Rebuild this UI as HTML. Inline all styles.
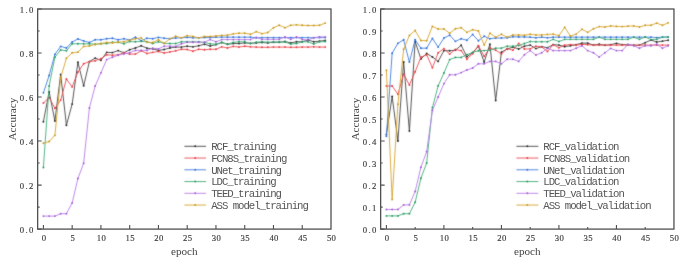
<!DOCTYPE html>
<html><head><meta charset="utf-8"><title>Accuracy curves</title>
<style>
html,body{margin:0;padding:0;background:#fff;}
body{width:685px;height:262px;overflow:hidden;}
svg{display:block;}
.tl{font-family:"Liberation Serif","Noto Serif CJK SC",serif;fill:#3a3a3a;stroke:#3a3a3a;stroke-width:0.15px;text-anchor:middle;}
.lg{font-family:"Liberation Mono","Noto Sans CJK SC",monospace;fill:#555;text-anchor:middle;}
.at{font-family:"Liberation Serif","Noto Serif CJK SC",serif;font-size:11.2px;fill:#444;}
</style></head>
<body>
<svg width="685" height="262" viewBox="0 0 685 262">
<defs><filter id="soft" x="0" y="0" width="685" height="262" filterUnits="userSpaceOnUse" color-interpolation-filters="sRGB"><feConvolveMatrix order="3" kernelMatrix="1 2 1 2 20 2 1 2 1" edgeMode="none"/></filter></defs>
<rect width="685" height="262" fill="#fff"/>
<g filter="url(#soft)">
<polyline points="43.40,121.69 49.15,91.76 54.90,121.03 60.66,74.37 66.41,125.21 72.16,104.08 77.91,62.26 83.66,85.81 89.42,61.60 95.17,58.08 100.92,60.28 106.67,52.36 112.42,52.58 118.18,50.60 123.93,52.80 129.68,49.72 135.43,47.96 141.18,45.76 146.94,48.18 152.69,48.84 158.44,50.38 164.19,49.50 169.94,47.96 175.70,47.08 181.45,47.08 187.20,46.20 192.95,46.86 198.70,45.76 204.46,44.22 210.21,45.98 215.96,44.66 221.71,42.46 227.46,44.22 233.22,43.56 238.97,43.56 244.72,42.90 250.47,43.34 256.22,42.90 261.98,42.46 267.73,42.90 273.48,42.24 279.23,42.24 284.98,41.57 290.74,42.90 296.49,41.79 302.24,41.79 307.99,40.03 313.74,41.79 319.50,41.13 325.25,40.47" fill="none" stroke="#444444" stroke-width="0.9" stroke-linejoin="round"/>
<g fill="#2a2a2a"><circle cx="43.40" cy="121.69" r="0.95"/><circle cx="49.15" cy="91.76" r="0.95"/><circle cx="54.90" cy="121.03" r="0.95"/><circle cx="60.66" cy="74.37" r="0.95"/><circle cx="66.41" cy="125.21" r="0.95"/><circle cx="72.16" cy="104.08" r="0.95"/><circle cx="77.91" cy="62.26" r="0.95"/><circle cx="83.66" cy="85.81" r="0.95"/><circle cx="89.42" cy="61.60" r="0.95"/><circle cx="95.17" cy="58.08" r="0.95"/><circle cx="100.92" cy="60.28" r="0.95"/><circle cx="106.67" cy="52.36" r="0.95"/><circle cx="112.42" cy="52.58" r="0.95"/><circle cx="118.18" cy="50.60" r="0.95"/><circle cx="123.93" cy="52.80" r="0.95"/><circle cx="129.68" cy="49.72" r="0.95"/><circle cx="135.43" cy="47.96" r="0.95"/><circle cx="141.18" cy="45.76" r="0.95"/><circle cx="146.94" cy="48.18" r="0.95"/><circle cx="152.69" cy="48.84" r="0.95"/><circle cx="158.44" cy="50.38" r="0.95"/><circle cx="164.19" cy="49.50" r="0.95"/><circle cx="169.94" cy="47.96" r="0.95"/><circle cx="175.70" cy="47.08" r="0.95"/><circle cx="181.45" cy="47.08" r="0.95"/><circle cx="187.20" cy="46.20" r="0.95"/><circle cx="192.95" cy="46.86" r="0.95"/><circle cx="198.70" cy="45.76" r="0.95"/><circle cx="204.46" cy="44.22" r="0.95"/><circle cx="210.21" cy="45.98" r="0.95"/><circle cx="215.96" cy="44.66" r="0.95"/><circle cx="221.71" cy="42.46" r="0.95"/><circle cx="227.46" cy="44.22" r="0.95"/><circle cx="233.22" cy="43.56" r="0.95"/><circle cx="238.97" cy="43.56" r="0.95"/><circle cx="244.72" cy="42.90" r="0.95"/><circle cx="250.47" cy="43.34" r="0.95"/><circle cx="256.22" cy="42.90" r="0.95"/><circle cx="261.98" cy="42.46" r="0.95"/><circle cx="267.73" cy="42.90" r="0.95"/><circle cx="273.48" cy="42.24" r="0.95"/><circle cx="279.23" cy="42.24" r="0.95"/><circle cx="284.98" cy="41.57" r="0.95"/><circle cx="290.74" cy="42.90" r="0.95"/><circle cx="296.49" cy="41.79" r="0.95"/><circle cx="302.24" cy="41.79" r="0.95"/><circle cx="307.99" cy="40.03" r="0.95"/><circle cx="313.74" cy="41.79" r="0.95"/><circle cx="319.50" cy="41.13" r="0.95"/><circle cx="325.25" cy="40.47" r="0.95"/></g>
<polyline points="43.40,102.98 49.15,97.48 54.90,108.27 60.66,100.12 66.41,78.99 72.16,86.92 77.91,71.95 83.66,63.80 89.42,61.60 95.17,60.72 100.92,58.74 106.67,54.78 112.42,55.22 118.18,54.78 123.93,52.80 129.68,54.12 135.43,54.12 141.18,50.82 146.94,53.46 152.69,52.36 158.44,51.48 164.19,53.02 169.94,51.92 175.70,50.82 181.45,49.28 187.20,49.50 192.95,51.26 198.70,49.28 204.46,49.72 210.21,49.28 215.96,49.28 221.71,46.86 227.46,47.96 233.22,46.42 238.97,47.08 244.72,46.20 250.47,46.86 256.22,47.08 261.98,47.30 267.73,47.30 273.48,47.08 279.23,47.08 284.98,47.08 290.74,47.30 296.49,47.30 302.24,47.08 307.99,47.08 313.74,46.86 319.50,47.08 325.25,47.08" fill="none" stroke="#ec4a50" stroke-width="0.9" stroke-linejoin="round"/>
<g fill="#e83c44"><circle cx="43.40" cy="102.98" r="0.95"/><circle cx="49.15" cy="97.48" r="0.95"/><circle cx="54.90" cy="108.27" r="0.95"/><circle cx="60.66" cy="100.12" r="0.95"/><circle cx="66.41" cy="78.99" r="0.95"/><circle cx="72.16" cy="86.92" r="0.95"/><circle cx="77.91" cy="71.95" r="0.95"/><circle cx="83.66" cy="63.80" r="0.95"/><circle cx="89.42" cy="61.60" r="0.95"/><circle cx="95.17" cy="60.72" r="0.95"/><circle cx="100.92" cy="58.74" r="0.95"/><circle cx="106.67" cy="54.78" r="0.95"/><circle cx="112.42" cy="55.22" r="0.95"/><circle cx="118.18" cy="54.78" r="0.95"/><circle cx="123.93" cy="52.80" r="0.95"/><circle cx="129.68" cy="54.12" r="0.95"/><circle cx="135.43" cy="54.12" r="0.95"/><circle cx="141.18" cy="50.82" r="0.95"/><circle cx="146.94" cy="53.46" r="0.95"/><circle cx="152.69" cy="52.36" r="0.95"/><circle cx="158.44" cy="51.48" r="0.95"/><circle cx="164.19" cy="53.02" r="0.95"/><circle cx="169.94" cy="51.92" r="0.95"/><circle cx="175.70" cy="50.82" r="0.95"/><circle cx="181.45" cy="49.28" r="0.95"/><circle cx="187.20" cy="49.50" r="0.95"/><circle cx="192.95" cy="51.26" r="0.95"/><circle cx="198.70" cy="49.28" r="0.95"/><circle cx="204.46" cy="49.72" r="0.95"/><circle cx="210.21" cy="49.28" r="0.95"/><circle cx="215.96" cy="49.28" r="0.95"/><circle cx="221.71" cy="46.86" r="0.95"/><circle cx="227.46" cy="47.96" r="0.95"/><circle cx="233.22" cy="46.42" r="0.95"/><circle cx="238.97" cy="47.08" r="0.95"/><circle cx="244.72" cy="46.20" r="0.95"/><circle cx="250.47" cy="46.86" r="0.95"/><circle cx="256.22" cy="47.08" r="0.95"/><circle cx="261.98" cy="47.30" r="0.95"/><circle cx="267.73" cy="47.30" r="0.95"/><circle cx="273.48" cy="47.08" r="0.95"/><circle cx="279.23" cy="47.08" r="0.95"/><circle cx="284.98" cy="47.08" r="0.95"/><circle cx="290.74" cy="47.30" r="0.95"/><circle cx="296.49" cy="47.30" r="0.95"/><circle cx="302.24" cy="47.08" r="0.95"/><circle cx="307.99" cy="47.08" r="0.95"/><circle cx="313.74" cy="46.86" r="0.95"/><circle cx="319.50" cy="47.08" r="0.95"/><circle cx="325.25" cy="47.08" r="0.95"/></g>
<polyline points="43.40,92.86 49.15,75.47 54.90,54.34 60.66,46.42 66.41,47.96 72.16,42.02 77.91,38.93 83.66,40.91 89.42,42.46 95.17,39.81 100.92,39.81 106.67,38.71 112.42,38.27 118.18,39.81 123.93,38.71 129.68,40.03 135.43,37.17 141.18,40.69 146.94,38.27 152.69,38.71 158.44,37.39 164.19,38.27 169.94,38.71 175.70,38.05 181.45,37.83 187.20,37.39 192.95,37.83 198.70,37.83 204.46,37.61 210.21,37.61 215.96,37.17 221.71,37.17 227.46,37.17 233.22,37.17 238.97,37.17 244.72,37.17 250.47,37.17 256.22,37.83 261.98,37.61 267.73,37.61 273.48,37.61 279.23,37.61 284.98,37.61 290.74,37.61 296.49,37.61 302.24,37.61 307.99,37.61 313.74,37.83 319.50,37.61 325.25,37.61" fill="none" stroke="#3f7ddc" stroke-width="0.9" stroke-linejoin="round"/>
<g fill="#2f6fd8"><circle cx="43.40" cy="92.86" r="0.95"/><circle cx="49.15" cy="75.47" r="0.95"/><circle cx="54.90" cy="54.34" r="0.95"/><circle cx="60.66" cy="46.42" r="0.95"/><circle cx="66.41" cy="47.96" r="0.95"/><circle cx="72.16" cy="42.02" r="0.95"/><circle cx="77.91" cy="38.93" r="0.95"/><circle cx="83.66" cy="40.91" r="0.95"/><circle cx="89.42" cy="42.46" r="0.95"/><circle cx="95.17" cy="39.81" r="0.95"/><circle cx="100.92" cy="39.81" r="0.95"/><circle cx="106.67" cy="38.71" r="0.95"/><circle cx="112.42" cy="38.27" r="0.95"/><circle cx="118.18" cy="39.81" r="0.95"/><circle cx="123.93" cy="38.71" r="0.95"/><circle cx="129.68" cy="40.03" r="0.95"/><circle cx="135.43" cy="37.17" r="0.95"/><circle cx="141.18" cy="40.69" r="0.95"/><circle cx="146.94" cy="38.27" r="0.95"/><circle cx="152.69" cy="38.71" r="0.95"/><circle cx="158.44" cy="37.39" r="0.95"/><circle cx="164.19" cy="38.27" r="0.95"/><circle cx="169.94" cy="38.71" r="0.95"/><circle cx="175.70" cy="38.05" r="0.95"/><circle cx="181.45" cy="37.83" r="0.95"/><circle cx="187.20" cy="37.39" r="0.95"/><circle cx="192.95" cy="37.83" r="0.95"/><circle cx="198.70" cy="37.83" r="0.95"/><circle cx="204.46" cy="37.61" r="0.95"/><circle cx="210.21" cy="37.61" r="0.95"/><circle cx="215.96" cy="37.17" r="0.95"/><circle cx="221.71" cy="37.17" r="0.95"/><circle cx="227.46" cy="37.17" r="0.95"/><circle cx="233.22" cy="37.17" r="0.95"/><circle cx="238.97" cy="37.17" r="0.95"/><circle cx="244.72" cy="37.17" r="0.95"/><circle cx="250.47" cy="37.17" r="0.95"/><circle cx="256.22" cy="37.83" r="0.95"/><circle cx="261.98" cy="37.61" r="0.95"/><circle cx="267.73" cy="37.61" r="0.95"/><circle cx="273.48" cy="37.61" r="0.95"/><circle cx="279.23" cy="37.61" r="0.95"/><circle cx="284.98" cy="37.61" r="0.95"/><circle cx="290.74" cy="37.61" r="0.95"/><circle cx="296.49" cy="37.61" r="0.95"/><circle cx="302.24" cy="37.61" r="0.95"/><circle cx="307.99" cy="37.61" r="0.95"/><circle cx="313.74" cy="37.83" r="0.95"/><circle cx="319.50" cy="37.61" r="0.95"/><circle cx="325.25" cy="37.61" r="0.95"/></g>
<polyline points="43.40,167.47 49.15,86.03 54.90,57.20 60.66,49.94 66.41,50.82 72.16,43.78 77.91,43.78 83.66,43.78 89.42,43.78 95.17,44.22 100.92,43.78 106.67,43.56 112.42,42.24 118.18,42.24 123.93,43.78 129.68,41.57 135.43,41.79 141.18,41.35 146.94,41.79 152.69,43.56 158.44,41.79 164.19,43.34 169.94,43.56 175.70,43.56 181.45,41.79 187.20,41.79 192.95,41.79 198.70,41.79 204.46,42.46 210.21,43.78 215.96,44.22 221.71,42.46 227.46,44.22 233.22,42.46 238.97,41.79 244.72,41.79 250.47,43.56 256.22,42.24 261.98,41.79 267.73,42.24 273.48,42.02 279.23,42.02 284.98,42.02 290.74,44.00 296.49,43.56 302.24,41.79 307.99,41.79 313.74,44.00 319.50,41.79 325.25,41.57" fill="none" stroke="#40ae78" stroke-width="0.9" stroke-linejoin="round"/>
<g fill="#259860"><circle cx="43.40" cy="167.47" r="0.95"/><circle cx="49.15" cy="86.03" r="0.95"/><circle cx="54.90" cy="57.20" r="0.95"/><circle cx="60.66" cy="49.94" r="0.95"/><circle cx="66.41" cy="50.82" r="0.95"/><circle cx="72.16" cy="43.78" r="0.95"/><circle cx="77.91" cy="43.78" r="0.95"/><circle cx="83.66" cy="43.78" r="0.95"/><circle cx="89.42" cy="43.78" r="0.95"/><circle cx="95.17" cy="44.22" r="0.95"/><circle cx="100.92" cy="43.78" r="0.95"/><circle cx="106.67" cy="43.56" r="0.95"/><circle cx="112.42" cy="42.24" r="0.95"/><circle cx="118.18" cy="42.24" r="0.95"/><circle cx="123.93" cy="43.78" r="0.95"/><circle cx="129.68" cy="41.57" r="0.95"/><circle cx="135.43" cy="41.79" r="0.95"/><circle cx="141.18" cy="41.35" r="0.95"/><circle cx="146.94" cy="41.79" r="0.95"/><circle cx="152.69" cy="43.56" r="0.95"/><circle cx="158.44" cy="41.79" r="0.95"/><circle cx="164.19" cy="43.34" r="0.95"/><circle cx="169.94" cy="43.56" r="0.95"/><circle cx="175.70" cy="43.56" r="0.95"/><circle cx="181.45" cy="41.79" r="0.95"/><circle cx="187.20" cy="41.79" r="0.95"/><circle cx="192.95" cy="41.79" r="0.95"/><circle cx="198.70" cy="41.79" r="0.95"/><circle cx="204.46" cy="42.46" r="0.95"/><circle cx="210.21" cy="43.78" r="0.95"/><circle cx="215.96" cy="44.22" r="0.95"/><circle cx="221.71" cy="42.46" r="0.95"/><circle cx="227.46" cy="44.22" r="0.95"/><circle cx="233.22" cy="42.46" r="0.95"/><circle cx="238.97" cy="41.79" r="0.95"/><circle cx="244.72" cy="41.79" r="0.95"/><circle cx="250.47" cy="43.56" r="0.95"/><circle cx="256.22" cy="42.24" r="0.95"/><circle cx="261.98" cy="41.79" r="0.95"/><circle cx="267.73" cy="42.24" r="0.95"/><circle cx="273.48" cy="42.02" r="0.95"/><circle cx="279.23" cy="42.02" r="0.95"/><circle cx="284.98" cy="42.02" r="0.95"/><circle cx="290.74" cy="44.00" r="0.95"/><circle cx="296.49" cy="43.56" r="0.95"/><circle cx="302.24" cy="41.79" r="0.95"/><circle cx="307.99" cy="41.79" r="0.95"/><circle cx="313.74" cy="44.00" r="0.95"/><circle cx="319.50" cy="41.79" r="0.95"/><circle cx="325.25" cy="41.57" r="0.95"/></g>
<polyline points="43.40,216.11 49.15,216.11 54.90,216.11 60.66,213.69 66.41,213.69 72.16,202.91 77.91,178.48 83.66,163.29 89.42,108.04 95.17,86.03 100.92,72.83 106.67,59.62 112.42,57.20 118.18,55.22 123.93,53.90 129.68,52.80 135.43,50.38 141.18,50.38 146.94,50.38 152.69,48.18 158.44,48.84 164.19,46.20 169.94,46.20 175.70,46.42 181.45,43.78 187.20,42.24 192.95,42.24 198.70,42.24 204.46,42.24 210.21,39.59 215.96,41.79 221.71,39.59 227.46,39.59 233.22,39.59 238.97,39.59 244.72,39.59 250.47,39.59 256.22,37.39 261.98,39.37 267.73,39.37 273.48,39.37 279.23,39.37 284.98,36.95 290.74,39.37 296.49,36.95 302.24,39.37 307.99,40.03 313.74,37.61 319.50,36.95 325.25,36.95" fill="none" stroke="#b87ce6" stroke-width="0.9" stroke-linejoin="round"/>
<g fill="#a05ad8"><circle cx="43.40" cy="216.11" r="0.95"/><circle cx="49.15" cy="216.11" r="0.95"/><circle cx="54.90" cy="216.11" r="0.95"/><circle cx="60.66" cy="213.69" r="0.95"/><circle cx="66.41" cy="213.69" r="0.95"/><circle cx="72.16" cy="202.91" r="0.95"/><circle cx="77.91" cy="178.48" r="0.95"/><circle cx="83.66" cy="163.29" r="0.95"/><circle cx="89.42" cy="108.04" r="0.95"/><circle cx="95.17" cy="86.03" r="0.95"/><circle cx="100.92" cy="72.83" r="0.95"/><circle cx="106.67" cy="59.62" r="0.95"/><circle cx="112.42" cy="57.20" r="0.95"/><circle cx="118.18" cy="55.22" r="0.95"/><circle cx="123.93" cy="53.90" r="0.95"/><circle cx="129.68" cy="52.80" r="0.95"/><circle cx="135.43" cy="50.38" r="0.95"/><circle cx="141.18" cy="50.38" r="0.95"/><circle cx="146.94" cy="50.38" r="0.95"/><circle cx="152.69" cy="48.18" r="0.95"/><circle cx="158.44" cy="48.84" r="0.95"/><circle cx="164.19" cy="46.20" r="0.95"/><circle cx="169.94" cy="46.20" r="0.95"/><circle cx="175.70" cy="46.42" r="0.95"/><circle cx="181.45" cy="43.78" r="0.95"/><circle cx="187.20" cy="42.24" r="0.95"/><circle cx="192.95" cy="42.24" r="0.95"/><circle cx="198.70" cy="42.24" r="0.95"/><circle cx="204.46" cy="42.24" r="0.95"/><circle cx="210.21" cy="39.59" r="0.95"/><circle cx="215.96" cy="41.79" r="0.95"/><circle cx="221.71" cy="39.59" r="0.95"/><circle cx="227.46" cy="39.59" r="0.95"/><circle cx="233.22" cy="39.59" r="0.95"/><circle cx="238.97" cy="39.59" r="0.95"/><circle cx="244.72" cy="39.59" r="0.95"/><circle cx="250.47" cy="39.59" r="0.95"/><circle cx="256.22" cy="37.39" r="0.95"/><circle cx="261.98" cy="39.37" r="0.95"/><circle cx="267.73" cy="39.37" r="0.95"/><circle cx="273.48" cy="39.37" r="0.95"/><circle cx="279.23" cy="39.37" r="0.95"/><circle cx="284.98" cy="36.95" r="0.95"/><circle cx="290.74" cy="39.37" r="0.95"/><circle cx="296.49" cy="36.95" r="0.95"/><circle cx="302.24" cy="39.37" r="0.95"/><circle cx="307.99" cy="40.03" r="0.95"/><circle cx="313.74" cy="37.61" r="0.95"/><circle cx="319.50" cy="36.95" r="0.95"/><circle cx="325.25" cy="36.95" r="0.95"/></g>
<polyline points="43.40,143.26 49.15,141.50 54.90,135.34 60.66,77.67 66.41,58.30 72.16,52.80 77.91,52.14 83.66,46.42 89.42,45.98 95.17,44.44 100.92,43.56 106.67,42.46 112.42,42.90 118.18,42.24 123.93,41.79 129.68,40.25 135.43,38.71 141.18,37.83 146.94,42.24 152.69,42.46 158.44,39.81 164.19,43.34 169.94,38.71 175.70,36.29 181.45,37.83 187.20,35.63 192.95,36.51 198.70,37.83 204.46,36.51 210.21,36.51 215.96,36.07 221.71,35.41 227.46,35.19 233.22,33.87 238.97,33.21 244.72,33.21 250.47,34.31 256.22,31.67 261.98,33.65 267.73,32.55 273.48,27.71 279.23,25.29 284.98,27.71 290.74,25.29 296.49,24.85 302.24,25.29 307.99,25.51 313.74,25.51 319.50,25.29 325.25,23.09" fill="none" stroke="#d6a42a" stroke-width="0.9" stroke-linejoin="round"/>
<g fill="#c89818"><circle cx="43.40" cy="143.26" r="0.95"/><circle cx="49.15" cy="141.50" r="0.95"/><circle cx="54.90" cy="135.34" r="0.95"/><circle cx="60.66" cy="77.67" r="0.95"/><circle cx="66.41" cy="58.30" r="0.95"/><circle cx="72.16" cy="52.80" r="0.95"/><circle cx="77.91" cy="52.14" r="0.95"/><circle cx="83.66" cy="46.42" r="0.95"/><circle cx="89.42" cy="45.98" r="0.95"/><circle cx="95.17" cy="44.44" r="0.95"/><circle cx="100.92" cy="43.56" r="0.95"/><circle cx="106.67" cy="42.46" r="0.95"/><circle cx="112.42" cy="42.90" r="0.95"/><circle cx="118.18" cy="42.24" r="0.95"/><circle cx="123.93" cy="41.79" r="0.95"/><circle cx="129.68" cy="40.25" r="0.95"/><circle cx="135.43" cy="38.71" r="0.95"/><circle cx="141.18" cy="37.83" r="0.95"/><circle cx="146.94" cy="42.24" r="0.95"/><circle cx="152.69" cy="42.46" r="0.95"/><circle cx="158.44" cy="39.81" r="0.95"/><circle cx="164.19" cy="43.34" r="0.95"/><circle cx="169.94" cy="38.71" r="0.95"/><circle cx="175.70" cy="36.29" r="0.95"/><circle cx="181.45" cy="37.83" r="0.95"/><circle cx="187.20" cy="35.63" r="0.95"/><circle cx="192.95" cy="36.51" r="0.95"/><circle cx="198.70" cy="37.83" r="0.95"/><circle cx="204.46" cy="36.51" r="0.95"/><circle cx="210.21" cy="36.51" r="0.95"/><circle cx="215.96" cy="36.07" r="0.95"/><circle cx="221.71" cy="35.41" r="0.95"/><circle cx="227.46" cy="35.19" r="0.95"/><circle cx="233.22" cy="33.87" r="0.95"/><circle cx="238.97" cy="33.21" r="0.95"/><circle cx="244.72" cy="33.21" r="0.95"/><circle cx="250.47" cy="34.31" r="0.95"/><circle cx="256.22" cy="31.67" r="0.95"/><circle cx="261.98" cy="33.65" r="0.95"/><circle cx="267.73" cy="32.55" r="0.95"/><circle cx="273.48" cy="27.71" r="0.95"/><circle cx="279.23" cy="25.29" r="0.95"/><circle cx="284.98" cy="27.71" r="0.95"/><circle cx="290.74" cy="25.29" r="0.95"/><circle cx="296.49" cy="24.85" r="0.95"/><circle cx="302.24" cy="25.29" r="0.95"/><circle cx="307.99" cy="25.51" r="0.95"/><circle cx="313.74" cy="25.51" r="0.95"/><circle cx="319.50" cy="25.29" r="0.95"/><circle cx="325.25" cy="23.09" r="0.95"/></g>
<path d="M184.40 146.30h21.6" stroke="#444444" stroke-width="0.9"/>
<circle cx="195.20" cy="146.30" r="0.95" fill="#2a2a2a"/>
<path d="M184.40 158.05h21.6" stroke="#ec4a50" stroke-width="0.9"/>
<circle cx="195.20" cy="158.05" r="0.95" fill="#e83c44"/>
<path d="M184.40 169.80h21.6" stroke="#3f7ddc" stroke-width="0.9"/>
<circle cx="195.20" cy="169.80" r="0.95" fill="#2f6fd8"/>
<path d="M184.40 181.55h21.6" stroke="#40ae78" stroke-width="0.9"/>
<circle cx="195.20" cy="181.55" r="0.95" fill="#259860"/>
<path d="M184.40 193.30h21.6" stroke="#b87ce6" stroke-width="0.9"/>
<circle cx="195.20" cy="193.30" r="0.95" fill="#a05ad8"/>
<path d="M184.40 205.05h21.6" stroke="#d6a42a" stroke-width="0.9"/>
<circle cx="195.20" cy="205.05" r="0.95" fill="#c89818"/>
<polyline points="386.40,134.46 392.15,96.38 397.90,141.06 403.65,62.04 409.40,130.94 415.15,41.57 420.91,58.96 426.66,53.46 432.41,56.98 438.16,61.38 443.91,50.60 449.66,50.82 455.41,50.16 461.16,45.32 466.91,56.76 472.66,52.58 478.42,46.20 484.17,62.04 489.92,44.22 495.67,100.56 501.42,52.14 507.17,49.06 512.92,47.08 518.67,49.06 524.42,46.20 530.17,45.10 535.93,48.62 541.68,46.64 547.43,47.74 553.18,44.66 558.93,45.10 564.68,46.64 570.43,45.76 576.18,44.66 581.93,43.12 587.68,43.12 593.44,45.10 599.19,44.22 604.94,45.32 610.69,44.66 616.44,43.34 622.19,44.66 627.94,44.66 633.69,45.32 639.44,45.10 645.19,42.68 650.95,40.03 656.70,42.02 662.45,41.13 668.20,40.25" fill="none" stroke="#444444" stroke-width="0.9" stroke-linejoin="round"/>
<g fill="#2a2a2a"><circle cx="386.40" cy="134.46" r="0.95"/><circle cx="392.15" cy="96.38" r="0.95"/><circle cx="397.90" cy="141.06" r="0.95"/><circle cx="403.65" cy="62.04" r="0.95"/><circle cx="409.40" cy="130.94" r="0.95"/><circle cx="415.15" cy="41.57" r="0.95"/><circle cx="420.91" cy="58.96" r="0.95"/><circle cx="426.66" cy="53.46" r="0.95"/><circle cx="432.41" cy="56.98" r="0.95"/><circle cx="438.16" cy="61.38" r="0.95"/><circle cx="443.91" cy="50.60" r="0.95"/><circle cx="449.66" cy="50.82" r="0.95"/><circle cx="455.41" cy="50.16" r="0.95"/><circle cx="461.16" cy="45.32" r="0.95"/><circle cx="466.91" cy="56.76" r="0.95"/><circle cx="472.66" cy="52.58" r="0.95"/><circle cx="478.42" cy="46.20" r="0.95"/><circle cx="484.17" cy="62.04" r="0.95"/><circle cx="489.92" cy="44.22" r="0.95"/><circle cx="495.67" cy="100.56" r="0.95"/><circle cx="501.42" cy="52.14" r="0.95"/><circle cx="507.17" cy="49.06" r="0.95"/><circle cx="512.92" cy="47.08" r="0.95"/><circle cx="518.67" cy="49.06" r="0.95"/><circle cx="524.42" cy="46.20" r="0.95"/><circle cx="530.17" cy="45.10" r="0.95"/><circle cx="535.93" cy="48.62" r="0.95"/><circle cx="541.68" cy="46.64" r="0.95"/><circle cx="547.43" cy="47.74" r="0.95"/><circle cx="553.18" cy="44.66" r="0.95"/><circle cx="558.93" cy="45.10" r="0.95"/><circle cx="564.68" cy="46.64" r="0.95"/><circle cx="570.43" cy="45.76" r="0.95"/><circle cx="576.18" cy="44.66" r="0.95"/><circle cx="581.93" cy="43.12" r="0.95"/><circle cx="587.68" cy="43.12" r="0.95"/><circle cx="593.44" cy="45.10" r="0.95"/><circle cx="599.19" cy="44.22" r="0.95"/><circle cx="604.94" cy="45.32" r="0.95"/><circle cx="610.69" cy="44.66" r="0.95"/><circle cx="616.44" cy="43.34" r="0.95"/><circle cx="622.19" cy="44.66" r="0.95"/><circle cx="627.94" cy="44.66" r="0.95"/><circle cx="633.69" cy="45.32" r="0.95"/><circle cx="639.44" cy="45.10" r="0.95"/><circle cx="645.19" cy="42.68" r="0.95"/><circle cx="650.95" cy="40.03" r="0.95"/><circle cx="656.70" cy="42.02" r="0.95"/><circle cx="662.45" cy="41.13" r="0.95"/><circle cx="668.20" cy="40.25" r="0.95"/></g>
<polyline points="386.40,86.03 392.15,86.03 397.90,94.18 403.65,74.15 409.40,84.93 415.15,71.73 420.91,57.20 426.66,54.78 432.41,67.77 438.16,52.80 443.91,48.62 449.66,54.12 455.41,49.50 461.16,50.60 466.91,59.18 472.66,53.68 478.42,45.76 484.17,56.32 489.92,47.96 495.67,50.16 501.42,53.90 507.17,48.62 512.92,50.16 518.67,43.34 524.42,49.06 530.17,48.84 535.93,46.20 541.68,46.86 547.43,51.48 553.18,44.66 558.93,47.74 564.68,45.10 570.43,44.66 576.18,45.10 581.93,44.44 587.68,44.66 593.44,45.10 599.19,45.10 604.94,45.10 610.69,45.10 616.44,45.10 622.19,45.10 627.94,45.10 633.69,45.32 639.44,45.10 645.19,45.10 650.95,45.10 656.70,45.10 662.45,45.10 668.20,45.10" fill="none" stroke="#ec4a50" stroke-width="0.9" stroke-linejoin="round"/>
<g fill="#e83c44"><circle cx="386.40" cy="86.03" r="0.95"/><circle cx="392.15" cy="86.03" r="0.95"/><circle cx="397.90" cy="94.18" r="0.95"/><circle cx="403.65" cy="74.15" r="0.95"/><circle cx="409.40" cy="84.93" r="0.95"/><circle cx="415.15" cy="71.73" r="0.95"/><circle cx="420.91" cy="57.20" r="0.95"/><circle cx="426.66" cy="54.78" r="0.95"/><circle cx="432.41" cy="67.77" r="0.95"/><circle cx="438.16" cy="52.80" r="0.95"/><circle cx="443.91" cy="48.62" r="0.95"/><circle cx="449.66" cy="54.12" r="0.95"/><circle cx="455.41" cy="49.50" r="0.95"/><circle cx="461.16" cy="50.60" r="0.95"/><circle cx="466.91" cy="59.18" r="0.95"/><circle cx="472.66" cy="53.68" r="0.95"/><circle cx="478.42" cy="45.76" r="0.95"/><circle cx="484.17" cy="56.32" r="0.95"/><circle cx="489.92" cy="47.96" r="0.95"/><circle cx="495.67" cy="50.16" r="0.95"/><circle cx="501.42" cy="53.90" r="0.95"/><circle cx="507.17" cy="48.62" r="0.95"/><circle cx="512.92" cy="50.16" r="0.95"/><circle cx="518.67" cy="43.34" r="0.95"/><circle cx="524.42" cy="49.06" r="0.95"/><circle cx="530.17" cy="48.84" r="0.95"/><circle cx="535.93" cy="46.20" r="0.95"/><circle cx="541.68" cy="46.86" r="0.95"/><circle cx="547.43" cy="51.48" r="0.95"/><circle cx="553.18" cy="44.66" r="0.95"/><circle cx="558.93" cy="47.74" r="0.95"/><circle cx="564.68" cy="45.10" r="0.95"/><circle cx="570.43" cy="44.66" r="0.95"/><circle cx="576.18" cy="45.10" r="0.95"/><circle cx="581.93" cy="44.44" r="0.95"/><circle cx="587.68" cy="44.66" r="0.95"/><circle cx="593.44" cy="45.10" r="0.95"/><circle cx="599.19" cy="45.10" r="0.95"/><circle cx="604.94" cy="45.10" r="0.95"/><circle cx="610.69" cy="45.10" r="0.95"/><circle cx="616.44" cy="45.10" r="0.95"/><circle cx="622.19" cy="45.10" r="0.95"/><circle cx="627.94" cy="45.10" r="0.95"/><circle cx="633.69" cy="45.32" r="0.95"/><circle cx="639.44" cy="45.10" r="0.95"/><circle cx="645.19" cy="45.10" r="0.95"/><circle cx="650.95" cy="45.10" r="0.95"/><circle cx="656.70" cy="45.10" r="0.95"/><circle cx="662.45" cy="45.10" r="0.95"/><circle cx="668.20" cy="45.10" r="0.95"/></g>
<polyline points="386.40,136.22 392.15,53.24 397.90,43.34 403.65,39.81 409.40,62.04 415.15,39.81 420.91,48.18 426.66,48.18 432.41,38.49 438.16,47.08 443.91,38.05 449.66,35.19 455.41,41.35 461.16,38.71 466.91,40.25 472.66,34.53 478.42,40.69 484.17,36.29 489.92,38.71 495.67,38.05 501.42,38.05 507.17,37.83 512.92,36.73 518.67,36.95 524.42,36.95 530.17,37.17 535.93,37.83 541.68,37.17 547.43,37.83 553.18,37.17 558.93,37.17 564.68,37.17 570.43,37.17 576.18,37.17 581.93,37.17 587.68,37.17 593.44,37.17 599.19,37.17 604.94,37.17 610.69,37.17 616.44,37.17 622.19,37.17 627.94,37.17 633.69,37.17 639.44,37.17 645.19,37.17 650.95,37.17 656.70,37.61 662.45,37.17 668.20,37.17" fill="none" stroke="#3f7ddc" stroke-width="0.9" stroke-linejoin="round"/>
<g fill="#2f6fd8"><circle cx="386.40" cy="136.22" r="0.95"/><circle cx="392.15" cy="53.24" r="0.95"/><circle cx="397.90" cy="43.34" r="0.95"/><circle cx="403.65" cy="39.81" r="0.95"/><circle cx="409.40" cy="62.04" r="0.95"/><circle cx="415.15" cy="39.81" r="0.95"/><circle cx="420.91" cy="48.18" r="0.95"/><circle cx="426.66" cy="48.18" r="0.95"/><circle cx="432.41" cy="38.49" r="0.95"/><circle cx="438.16" cy="47.08" r="0.95"/><circle cx="443.91" cy="38.05" r="0.95"/><circle cx="449.66" cy="35.19" r="0.95"/><circle cx="455.41" cy="41.35" r="0.95"/><circle cx="461.16" cy="38.71" r="0.95"/><circle cx="466.91" cy="40.25" r="0.95"/><circle cx="472.66" cy="34.53" r="0.95"/><circle cx="478.42" cy="40.69" r="0.95"/><circle cx="484.17" cy="36.29" r="0.95"/><circle cx="489.92" cy="38.71" r="0.95"/><circle cx="495.67" cy="38.05" r="0.95"/><circle cx="501.42" cy="38.05" r="0.95"/><circle cx="507.17" cy="37.83" r="0.95"/><circle cx="512.92" cy="36.73" r="0.95"/><circle cx="518.67" cy="36.95" r="0.95"/><circle cx="524.42" cy="36.95" r="0.95"/><circle cx="530.17" cy="37.17" r="0.95"/><circle cx="535.93" cy="37.83" r="0.95"/><circle cx="541.68" cy="37.17" r="0.95"/><circle cx="547.43" cy="37.83" r="0.95"/><circle cx="553.18" cy="37.17" r="0.95"/><circle cx="558.93" cy="37.17" r="0.95"/><circle cx="564.68" cy="37.17" r="0.95"/><circle cx="570.43" cy="37.17" r="0.95"/><circle cx="576.18" cy="37.17" r="0.95"/><circle cx="581.93" cy="37.17" r="0.95"/><circle cx="587.68" cy="37.17" r="0.95"/><circle cx="593.44" cy="37.17" r="0.95"/><circle cx="599.19" cy="37.17" r="0.95"/><circle cx="604.94" cy="37.17" r="0.95"/><circle cx="610.69" cy="37.17" r="0.95"/><circle cx="616.44" cy="37.17" r="0.95"/><circle cx="622.19" cy="37.17" r="0.95"/><circle cx="627.94" cy="37.17" r="0.95"/><circle cx="633.69" cy="37.17" r="0.95"/><circle cx="639.44" cy="37.17" r="0.95"/><circle cx="645.19" cy="37.17" r="0.95"/><circle cx="650.95" cy="37.17" r="0.95"/><circle cx="656.70" cy="37.61" r="0.95"/><circle cx="662.45" cy="37.17" r="0.95"/><circle cx="668.20" cy="37.17" r="0.95"/></g>
<polyline points="386.40,215.89 392.15,215.89 397.90,215.89 403.65,213.69 409.40,213.69 415.15,202.25 420.91,178.26 426.66,163.07 432.41,107.60 438.16,85.81 443.91,73.05 449.66,59.62 455.41,57.42 461.16,57.42 466.91,54.78 472.66,52.36 478.42,50.82 484.17,50.60 489.92,50.16 495.67,48.18 501.42,48.18 507.17,46.20 512.92,46.20 518.67,45.54 524.42,43.56 530.17,41.57 535.93,41.79 541.68,41.79 547.43,41.79 553.18,39.37 558.93,41.57 564.68,39.37 570.43,39.37 576.18,39.37 581.93,39.37 587.68,39.37 593.44,39.37 599.19,37.17 604.94,39.37 610.69,39.37 616.44,39.37 622.19,39.37 627.94,39.37 633.69,37.17 639.44,39.37 645.19,36.95 650.95,39.59 656.70,39.37 662.45,37.17 668.20,36.95" fill="none" stroke="#40ae78" stroke-width="0.9" stroke-linejoin="round"/>
<g fill="#259860"><circle cx="386.40" cy="215.89" r="0.95"/><circle cx="392.15" cy="215.89" r="0.95"/><circle cx="397.90" cy="215.89" r="0.95"/><circle cx="403.65" cy="213.69" r="0.95"/><circle cx="409.40" cy="213.69" r="0.95"/><circle cx="415.15" cy="202.25" r="0.95"/><circle cx="420.91" cy="178.26" r="0.95"/><circle cx="426.66" cy="163.07" r="0.95"/><circle cx="432.41" cy="107.60" r="0.95"/><circle cx="438.16" cy="85.81" r="0.95"/><circle cx="443.91" cy="73.05" r="0.95"/><circle cx="449.66" cy="59.62" r="0.95"/><circle cx="455.41" cy="57.42" r="0.95"/><circle cx="461.16" cy="57.42" r="0.95"/><circle cx="466.91" cy="54.78" r="0.95"/><circle cx="472.66" cy="52.36" r="0.95"/><circle cx="478.42" cy="50.82" r="0.95"/><circle cx="484.17" cy="50.60" r="0.95"/><circle cx="489.92" cy="50.16" r="0.95"/><circle cx="495.67" cy="48.18" r="0.95"/><circle cx="501.42" cy="48.18" r="0.95"/><circle cx="507.17" cy="46.20" r="0.95"/><circle cx="512.92" cy="46.20" r="0.95"/><circle cx="518.67" cy="45.54" r="0.95"/><circle cx="524.42" cy="43.56" r="0.95"/><circle cx="530.17" cy="41.57" r="0.95"/><circle cx="535.93" cy="41.79" r="0.95"/><circle cx="541.68" cy="41.79" r="0.95"/><circle cx="547.43" cy="41.79" r="0.95"/><circle cx="553.18" cy="39.37" r="0.95"/><circle cx="558.93" cy="41.57" r="0.95"/><circle cx="564.68" cy="39.37" r="0.95"/><circle cx="570.43" cy="39.37" r="0.95"/><circle cx="576.18" cy="39.37" r="0.95"/><circle cx="581.93" cy="39.37" r="0.95"/><circle cx="587.68" cy="39.37" r="0.95"/><circle cx="593.44" cy="39.37" r="0.95"/><circle cx="599.19" cy="37.17" r="0.95"/><circle cx="604.94" cy="39.37" r="0.95"/><circle cx="610.69" cy="39.37" r="0.95"/><circle cx="616.44" cy="39.37" r="0.95"/><circle cx="622.19" cy="39.37" r="0.95"/><circle cx="627.94" cy="39.37" r="0.95"/><circle cx="633.69" cy="37.17" r="0.95"/><circle cx="639.44" cy="39.37" r="0.95"/><circle cx="645.19" cy="36.95" r="0.95"/><circle cx="650.95" cy="39.59" r="0.95"/><circle cx="656.70" cy="39.37" r="0.95"/><circle cx="662.45" cy="37.17" r="0.95"/><circle cx="668.20" cy="36.95" r="0.95"/></g>
<polyline points="386.40,209.51 392.15,209.51 397.90,209.51 403.65,204.89 409.40,204.89 415.15,191.46 420.91,167.25 426.66,151.62 432.41,110.25 438.16,97.04 443.91,83.61 449.66,74.81 455.41,74.81 461.16,72.61 466.91,69.97 472.66,67.99 478.42,63.80 484.17,63.80 489.92,61.38 495.67,61.38 501.42,63.80 507.17,59.18 512.92,59.18 518.67,61.38 524.42,54.78 530.17,50.60 535.93,55.00 541.68,52.80 547.43,48.18 553.18,50.60 558.93,50.60 564.68,50.60 570.43,50.60 576.18,48.18 581.93,45.76 587.68,50.60 593.44,52.80 599.19,56.98 604.94,52.80 610.69,48.40 616.44,50.60 622.19,50.60 627.94,44.44 633.69,45.76 639.44,48.18 645.19,45.76 650.95,45.76 656.70,44.22 662.45,48.18 668.20,45.76" fill="none" stroke="#b87ce6" stroke-width="0.9" stroke-linejoin="round"/>
<g fill="#a05ad8"><circle cx="386.40" cy="209.51" r="0.95"/><circle cx="392.15" cy="209.51" r="0.95"/><circle cx="397.90" cy="209.51" r="0.95"/><circle cx="403.65" cy="204.89" r="0.95"/><circle cx="409.40" cy="204.89" r="0.95"/><circle cx="415.15" cy="191.46" r="0.95"/><circle cx="420.91" cy="167.25" r="0.95"/><circle cx="426.66" cy="151.62" r="0.95"/><circle cx="432.41" cy="110.25" r="0.95"/><circle cx="438.16" cy="97.04" r="0.95"/><circle cx="443.91" cy="83.61" r="0.95"/><circle cx="449.66" cy="74.81" r="0.95"/><circle cx="455.41" cy="74.81" r="0.95"/><circle cx="461.16" cy="72.61" r="0.95"/><circle cx="466.91" cy="69.97" r="0.95"/><circle cx="472.66" cy="67.99" r="0.95"/><circle cx="478.42" cy="63.80" r="0.95"/><circle cx="484.17" cy="63.80" r="0.95"/><circle cx="489.92" cy="61.38" r="0.95"/><circle cx="495.67" cy="61.38" r="0.95"/><circle cx="501.42" cy="63.80" r="0.95"/><circle cx="507.17" cy="59.18" r="0.95"/><circle cx="512.92" cy="59.18" r="0.95"/><circle cx="518.67" cy="61.38" r="0.95"/><circle cx="524.42" cy="54.78" r="0.95"/><circle cx="530.17" cy="50.60" r="0.95"/><circle cx="535.93" cy="55.00" r="0.95"/><circle cx="541.68" cy="52.80" r="0.95"/><circle cx="547.43" cy="48.18" r="0.95"/><circle cx="553.18" cy="50.60" r="0.95"/><circle cx="558.93" cy="50.60" r="0.95"/><circle cx="564.68" cy="50.60" r="0.95"/><circle cx="570.43" cy="50.60" r="0.95"/><circle cx="576.18" cy="48.18" r="0.95"/><circle cx="581.93" cy="45.76" r="0.95"/><circle cx="587.68" cy="50.60" r="0.95"/><circle cx="593.44" cy="52.80" r="0.95"/><circle cx="599.19" cy="56.98" r="0.95"/><circle cx="604.94" cy="52.80" r="0.95"/><circle cx="610.69" cy="48.40" r="0.95"/><circle cx="616.44" cy="50.60" r="0.95"/><circle cx="622.19" cy="50.60" r="0.95"/><circle cx="627.94" cy="44.44" r="0.95"/><circle cx="633.69" cy="45.76" r="0.95"/><circle cx="639.44" cy="48.18" r="0.95"/><circle cx="645.19" cy="45.76" r="0.95"/><circle cx="650.95" cy="45.76" r="0.95"/><circle cx="656.70" cy="44.22" r="0.95"/><circle cx="662.45" cy="48.18" r="0.95"/><circle cx="668.20" cy="45.76" r="0.95"/></g>
<polyline points="386.40,70.19 392.15,199.61 397.90,104.30 403.65,49.28 409.40,35.41 415.15,30.57 420.91,40.47 426.66,40.69 432.41,26.39 438.16,29.03 443.91,29.03 449.66,33.21 455.41,28.81 461.16,27.71 466.91,32.33 472.66,29.69 478.42,31.01 484.17,45.10 489.92,33.21 495.67,37.17 501.42,34.31 507.17,37.17 512.92,34.97 518.67,34.97 524.42,35.19 530.17,34.31 535.93,34.97 541.68,34.97 547.43,34.53 553.18,34.09 558.93,35.63 564.68,27.27 570.43,36.07 576.18,34.09 581.93,29.25 587.68,32.33 593.44,28.81 599.19,26.61 604.94,27.05 610.69,25.95 616.44,26.39 622.19,26.61 627.94,26.17 633.69,25.95 639.44,27.05 645.19,25.29 650.95,25.29 656.70,23.09 662.45,25.29 668.20,22.87" fill="none" stroke="#d6a42a" stroke-width="0.9" stroke-linejoin="round"/>
<g fill="#c89818"><circle cx="386.40" cy="70.19" r="0.95"/><circle cx="392.15" cy="199.61" r="0.95"/><circle cx="397.90" cy="104.30" r="0.95"/><circle cx="403.65" cy="49.28" r="0.95"/><circle cx="409.40" cy="35.41" r="0.95"/><circle cx="415.15" cy="30.57" r="0.95"/><circle cx="420.91" cy="40.47" r="0.95"/><circle cx="426.66" cy="40.69" r="0.95"/><circle cx="432.41" cy="26.39" r="0.95"/><circle cx="438.16" cy="29.03" r="0.95"/><circle cx="443.91" cy="29.03" r="0.95"/><circle cx="449.66" cy="33.21" r="0.95"/><circle cx="455.41" cy="28.81" r="0.95"/><circle cx="461.16" cy="27.71" r="0.95"/><circle cx="466.91" cy="32.33" r="0.95"/><circle cx="472.66" cy="29.69" r="0.95"/><circle cx="478.42" cy="31.01" r="0.95"/><circle cx="484.17" cy="45.10" r="0.95"/><circle cx="489.92" cy="33.21" r="0.95"/><circle cx="495.67" cy="37.17" r="0.95"/><circle cx="501.42" cy="34.31" r="0.95"/><circle cx="507.17" cy="37.17" r="0.95"/><circle cx="512.92" cy="34.97" r="0.95"/><circle cx="518.67" cy="34.97" r="0.95"/><circle cx="524.42" cy="35.19" r="0.95"/><circle cx="530.17" cy="34.31" r="0.95"/><circle cx="535.93" cy="34.97" r="0.95"/><circle cx="541.68" cy="34.97" r="0.95"/><circle cx="547.43" cy="34.53" r="0.95"/><circle cx="553.18" cy="34.09" r="0.95"/><circle cx="558.93" cy="35.63" r="0.95"/><circle cx="564.68" cy="27.27" r="0.95"/><circle cx="570.43" cy="36.07" r="0.95"/><circle cx="576.18" cy="34.09" r="0.95"/><circle cx="581.93" cy="29.25" r="0.95"/><circle cx="587.68" cy="32.33" r="0.95"/><circle cx="593.44" cy="28.81" r="0.95"/><circle cx="599.19" cy="26.61" r="0.95"/><circle cx="604.94" cy="27.05" r="0.95"/><circle cx="610.69" cy="25.95" r="0.95"/><circle cx="616.44" cy="26.39" r="0.95"/><circle cx="622.19" cy="26.61" r="0.95"/><circle cx="627.94" cy="26.17" r="0.95"/><circle cx="633.69" cy="25.95" r="0.95"/><circle cx="639.44" cy="27.05" r="0.95"/><circle cx="645.19" cy="25.29" r="0.95"/><circle cx="650.95" cy="25.29" r="0.95"/><circle cx="656.70" cy="23.09" r="0.95"/><circle cx="662.45" cy="25.29" r="0.95"/><circle cx="668.20" cy="22.87" r="0.95"/></g>
<path d="M516.40 146.30h21.9" stroke="#444444" stroke-width="0.9"/>
<circle cx="527.35" cy="146.30" r="0.95" fill="#2a2a2a"/>
<path d="M516.40 158.05h21.9" stroke="#ec4a50" stroke-width="0.9"/>
<circle cx="527.35" cy="158.05" r="0.95" fill="#e83c44"/>
<path d="M516.40 169.80h21.9" stroke="#3f7ddc" stroke-width="0.9"/>
<circle cx="527.35" cy="169.80" r="0.95" fill="#2f6fd8"/>
<path d="M516.40 181.55h21.9" stroke="#40ae78" stroke-width="0.9"/>
<circle cx="527.35" cy="181.55" r="0.95" fill="#259860"/>
<path d="M516.40 193.30h21.9" stroke="#b87ce6" stroke-width="0.9"/>
<circle cx="527.35" cy="193.30" r="0.95" fill="#a05ad8"/>
<path d="M516.40 205.05h21.9" stroke="#d6a42a" stroke-width="0.9"/>
<circle cx="527.35" cy="205.05" r="0.95" fill="#c89818"/>
</g>
<rect x="37.65" y="9.00" width="293.35" height="220.10" fill="none" stroke="#505050" stroke-width="1.3"/>
<path d="M37.65 229.10h4 M37.65 207.09h2 M37.65 185.08h4 M37.65 163.07h2 M37.65 141.06h4 M37.65 119.05h2 M37.65 97.04h4 M37.65 75.03h2 M37.65 53.02h4 M37.65 31.01h2 M37.65 9.00h4 M43.40 229.10v-4 M72.16 229.10v-4 M100.92 229.10v-4 M129.68 229.10v-4 M158.44 229.10v-4 M187.20 229.10v-4 M215.96 229.10v-4 M244.72 229.10v-4 M273.48 229.10v-4 M302.24 229.10v-4" stroke="#505050" stroke-width="1.1" fill="none"/>
<rect x="380.65" y="9.00" width="293.30" height="220.10" fill="none" stroke="#505050" stroke-width="1.3"/>
<path d="M380.65 229.10h4 M380.65 207.09h2 M380.65 185.08h4 M380.65 163.07h2 M380.65 141.06h4 M380.65 119.05h2 M380.65 97.04h4 M380.65 75.03h2 M380.65 53.02h4 M380.65 31.01h2 M380.65 9.00h4 M386.40 229.10v-4 M415.15 229.10v-2 M443.91 229.10v-4 M472.66 229.10v-2 M501.42 229.10v-4 M530.17 229.10v-2 M558.93 229.10v-4 M587.68 229.10v-2 M616.44 229.10v-4 M645.19 229.10v-2" stroke="#505050" stroke-width="1.1" fill="none"/>
<text class="tl" x="21.87 26.52 31.17" y="232.90" font-size="8.7">0.0</text>
<text class="tl" x="21.87 26.52 31.17" y="188.88" font-size="8.7">0.2</text>
<text class="tl" x="21.87 26.52 31.17" y="144.86" font-size="8.7">0.4</text>
<text class="tl" x="21.87 26.52 31.17" y="100.84" font-size="8.7">0.6</text>
<text class="tl" x="21.87 26.52 31.17" y="56.82" font-size="8.7">0.8</text>
<text class="tl" x="21.87 26.52 31.17" y="12.80" font-size="8.7">1.0</text>
<text class="tl" x="43.80" y="241.30" font-size="8.7">0</text>
<text class="tl" x="72.56" y="241.30" font-size="8.7">5</text>
<text class="tl" x="98.99 103.64" y="241.30" font-size="8.7">10</text>
<text class="tl" x="127.76 132.41" y="241.30" font-size="8.7">15</text>
<text class="tl" x="156.51 161.16" y="241.30" font-size="8.7">20</text>
<text class="tl" x="185.27 189.92" y="241.30" font-size="8.7">25</text>
<text class="tl" x="214.03 218.69" y="241.30" font-size="8.7">30</text>
<text class="tl" x="242.79 247.44" y="241.30" font-size="8.7">35</text>
<text class="tl" x="271.55 276.20" y="241.30" font-size="8.7">40</text>
<text class="tl" x="300.31 304.96" y="241.30" font-size="8.7">45</text>
<text class="tl" x="329.07 333.72" y="241.30" font-size="8.7">50</text>
<text class="at" x="184.32" y="254.9" text-anchor="middle">epoch</text>
<text class="at" transform="translate(16.35,119.05) rotate(-90)" x="0" y="0" text-anchor="middle">Accuracy</text>
<text class="lg" transform="translate(0,150.10) scale(1,1.07)" x="214.48 219.84 225.20 230.56 235.92 241.28 246.64 252.00 257.36 262.72 268.08 273.44" y="0" font-size="10.7">RCF_training</text>
<text class="lg" transform="translate(0,161.85) scale(1,1.07)" x="214.48 219.84 225.20 230.56 235.92 241.28 246.64 252.00 257.36 262.72 268.08 273.44 278.80 284.16" y="0" font-size="10.7">FCN8S_training</text>
<text class="lg" transform="translate(0,173.60) scale(1,1.07)" x="214.48 219.84 225.20 230.56 235.92 241.28 246.64 252.00 257.36 262.72 268.08 273.44 278.80" y="0" font-size="10.7">UNet_training</text>
<text class="lg" transform="translate(0,185.35) scale(1,1.07)" x="214.48 219.84 225.20 230.56 235.92 241.28 246.64 252.00 257.36 262.72 268.08 273.44" y="0" font-size="10.7">LDC_training</text>
<text class="lg" transform="translate(0,197.10) scale(1,1.07)" x="214.48 219.84 225.20 230.56 235.92 241.28 246.64 252.00 257.36 262.72 268.08 273.44 278.80" y="0" font-size="10.7">TEED_training</text>
<text class="lg" transform="translate(0,208.85) scale(1,1.07)" x="214.48 219.84 225.20 230.56 235.92 241.28 246.64 252.00 257.36 262.72 268.08 273.44 278.80 284.16 289.52 294.88 300.24 305.60" y="0" font-size="10.7">ASS model_training</text>
<text class="tl" x="364.87 369.52 374.17" y="232.90" font-size="8.7">0.0</text>
<text class="tl" x="364.87 369.52 374.17" y="210.89" font-size="8.7">0.1</text>
<text class="tl" x="364.87 369.52 374.17" y="188.88" font-size="8.7">0.2</text>
<text class="tl" x="364.87 369.52 374.17" y="166.87" font-size="8.7">0.3</text>
<text class="tl" x="364.87 369.52 374.17" y="144.86" font-size="8.7">0.4</text>
<text class="tl" x="364.87 369.52 374.17" y="122.85" font-size="8.7">0.5</text>
<text class="tl" x="364.87 369.52 374.17" y="100.84" font-size="8.7">0.6</text>
<text class="tl" x="364.87 369.52 374.17" y="78.83" font-size="8.7">0.7</text>
<text class="tl" x="364.87 369.52 374.17" y="56.82" font-size="8.7">0.8</text>
<text class="tl" x="364.87 369.52 374.17" y="34.81" font-size="8.7">0.9</text>
<text class="tl" x="364.87 369.52 374.17" y="12.80" font-size="8.7">1.0</text>
<text class="tl" x="386.80" y="241.30" font-size="8.7">0</text>
<text class="tl" x="415.55" y="241.30" font-size="8.7">5</text>
<text class="tl" x="441.98 446.63" y="241.30" font-size="8.7">10</text>
<text class="tl" x="470.74 475.39" y="241.30" font-size="8.7">15</text>
<text class="tl" x="499.49 504.14" y="241.30" font-size="8.7">20</text>
<text class="tl" x="528.25 532.90" y="241.30" font-size="8.7">25</text>
<text class="tl" x="557.00 561.65" y="241.30" font-size="8.7">30</text>
<text class="tl" x="585.76 590.41" y="241.30" font-size="8.7">35</text>
<text class="tl" x="614.52 619.17" y="241.30" font-size="8.7">40</text>
<text class="tl" x="643.27 647.92" y="241.30" font-size="8.7">45</text>
<text class="tl" x="672.03 676.68" y="241.30" font-size="8.7">50</text>
<text class="at" x="527.30" y="254.9" text-anchor="middle">epoch</text>
<text class="at" transform="translate(359.35,119.05) rotate(-90)" x="0" y="0" text-anchor="middle">Accuracy</text>
<text class="lg" transform="translate(0,150.10) scale(1,1.07)" x="546.58 551.94 557.30 562.66 568.02 573.38 578.74 584.10 589.46 594.82 600.18 605.54 610.90 616.26" y="0" font-size="10.7">RCF_validation</text>
<text class="lg" transform="translate(0,161.85) scale(1,1.07)" x="546.58 551.94 557.30 562.66 568.02 573.38 578.74 584.10 589.46 594.82 600.18 605.54 610.90 616.26 621.62 626.98" y="0" font-size="10.7">FCN8S_validation</text>
<text class="lg" transform="translate(0,173.60) scale(1,1.07)" x="546.58 551.94 557.30 562.66 568.02 573.38 578.74 584.10 589.46 594.82 600.18 605.54 610.90 616.26 621.62" y="0" font-size="10.7">UNet_validation</text>
<text class="lg" transform="translate(0,185.35) scale(1,1.07)" x="546.58 551.94 557.30 562.66 568.02 573.38 578.74 584.10 589.46 594.82 600.18 605.54 610.90 616.26" y="0" font-size="10.7">LDC_validation</text>
<text class="lg" transform="translate(0,197.10) scale(1,1.07)" x="546.58 551.94 557.30 562.66 568.02 573.38 578.74 584.10 589.46 594.82 600.18 605.54 610.90 616.26 621.62" y="0" font-size="10.7">TEED_validation</text>
<text class="lg" transform="translate(0,208.85) scale(1,1.07)" x="546.58 551.94 557.30 562.66 568.02 573.38 578.74 584.10 589.46 594.82 600.18 605.54 610.90 616.26 621.62 626.98 632.34 637.70 643.06 648.42" y="0" font-size="10.7">ASS model_validation</text>
</svg>
</body></html>
